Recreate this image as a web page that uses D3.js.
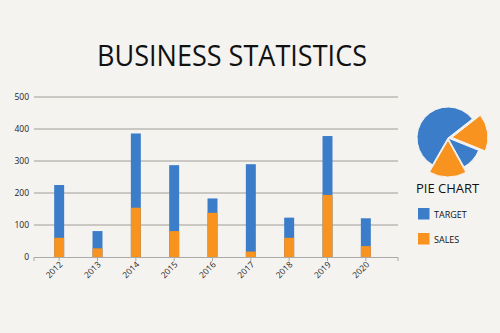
<!DOCTYPE html>
<html>
<head>
<meta charset="utf-8">
<script src="https://cdn.jsdelivr.net/npm/d3@7"></script>
<style>
  body { margin: 0; background: #f5f3f0; }
  svg { display: block; font-family: "Open Sans", "Noto Sans", sans-serif; }
</style>
</head>
<body>
<svg id="chart" width="500" height="333"></svg>
<script>
// bar data
const years = ["2012", "2013", "2014", "2015", "2016", "2017", "2018", "2019", "2020"];
const target = [225, 81, 386, 287, 183, 290, 123, 378, 121];
const sales = [60, 27, 154, 81, 138, 17, 60, 194, 34];
const yTicks = [0, 100, 200, 300, 400, 500];

// pie slices (angle shares), clockwise from lower-left
const pieNames = ["TARGET", "SALES", "TARGET", "SALES"];
const pieValues = [202, 60, 39, 59];

const legendNames = ["TARGET", "SALES"];

const blue = "#3b7dc9", orange = "#f7931e";
const colorOf = name => name === "TARGET" ? blue : orange;

const svg = d3.select("#chart");

svg.append("text")
  .attr("x", 232).attr("y", 66)
  .attr("text-anchor", "middle")
  .attr("font-size", 29)
  .attr("textLength", 270)
  .attr("lengthAdjust", "spacingAndGlyphs")
  .attr("fill", "#111")
  .text("BUSINESS STATISTICS");

const x = d3.scaleBand().domain(years).range([40, 385]).paddingInner(0.74).paddingOuter(0.37);
const y = d3.scaleLinear().domain([0, 500]).range([257, 97]);

// grid
svg.append("g").selectAll("line")
  .data(yTicks.slice(1))
  .enter().append("line")
  .attr("x1", 34).attr("x2", 398)
  .attr("y1", d => y(d)).attr("y2", d => y(d))
  .attr("stroke", "#bdbab6").attr("stroke-width", 1.3);

// y labels
svg.append("g").selectAll("text")
  .data(yTicks)
  .enter().append("text")
  .attr("x", 29).attr("y", d => y(d) + 3)
  .attr("text-anchor", "end")
  .attr("font-size", 8.5)
  .attr("fill", "#222")
  .text(d => d);

// bars
const bars = svg.append("g");
bars.selectAll(".target")
  .data(years)
  .enter().append("rect")
  .attr("x", d => x(d)).attr("width", x.bandwidth())
  .attr("y", (d, i) => y(target[i]))
  .attr("height", (d, i) => y(0) - y(target[i]))
  .attr("fill", blue);
bars.selectAll(".sales")
  .data(years)
  .enter().append("rect")
  .attr("x", d => x(d)).attr("width", x.bandwidth())
  .attr("y", (d, i) => y(sales[i]))
  .attr("height", (d, i) => y(0) - y(sales[i]))
  .attr("fill", orange);

// x axis
const xa = svg.append("g").attr("stroke", "#aaa").attr("stroke-width", 1);
xa.append("line").attr("x1", 34).attr("x2", 398).attr("y1", 257.5).attr("y2", 257.5);
xa.selectAll(".tk")
  .data([34, 398].concat(years.map(d => x(d) + x.bandwidth() / 2)))
  .enter().append("line")
  .attr("x1", d => d).attr("x2", d => d)
  .attr("y1", 257.5).attr("y2", 261);

svg.append("g").selectAll("text")
  .data(years)
  .enter().append("text")
  .attr("transform", d => `translate(${x(d) + x.bandwidth() / 2 + 4},${265}) rotate(-45)`)
  .attr("text-anchor", "end")
  .attr("font-size", 8.5)
  .attr("fill", "#222")
  .text(d => d);

// pie
const pie = d3.pie().sort(null)
  .startAngle(210 * Math.PI / 180)
  .endAngle(570 * Math.PI / 180);
const radii = [31, 36, 33, 37];
const offsets = [0, 4, 0, 2];
const arcs = pie(pieValues);
const pg = svg.append("g").attr("transform", "translate(448,138)");
pg.selectAll("path")
  .data(arcs)
  .enter().append("path")
  .attr("transform", (d, i) => {
    const a = (d.startAngle + d.endAngle) / 2;
    return `translate(${Math.sin(a) * offsets[i]},${-Math.cos(a) * offsets[i]})`;
  })
  .attr("d", (d, i) => d3.arc().innerRadius(0).outerRadius(radii[i])(d))
  .attr("fill", (d, i) => colorOf(pieNames[i]))
  .attr("stroke", "#f5f3f0").attr("stroke-width", 1);

// legend
svg.append("text")
  .attr("x", 416).attr("y", 193)
  .attr("font-size", 13)
  .attr("fill", "#111")
  .text("PIE CHART");

const lg = svg.append("g").selectAll("g")
  .data(legendNames)
  .enter().append("g")
  .attr("transform", (d, i) => `translate(418,${208 + i * 25})`);
lg.append("rect").attr("width", 11.5).attr("height", 11.5).attr("fill", d => colorOf(d));
lg.append("text").attr("x", 16).attr("y", 9.5)
  .attr("font-size", 9).attr("fill", "#111")
  .text(d => d);
</script>
</body>
</html>
